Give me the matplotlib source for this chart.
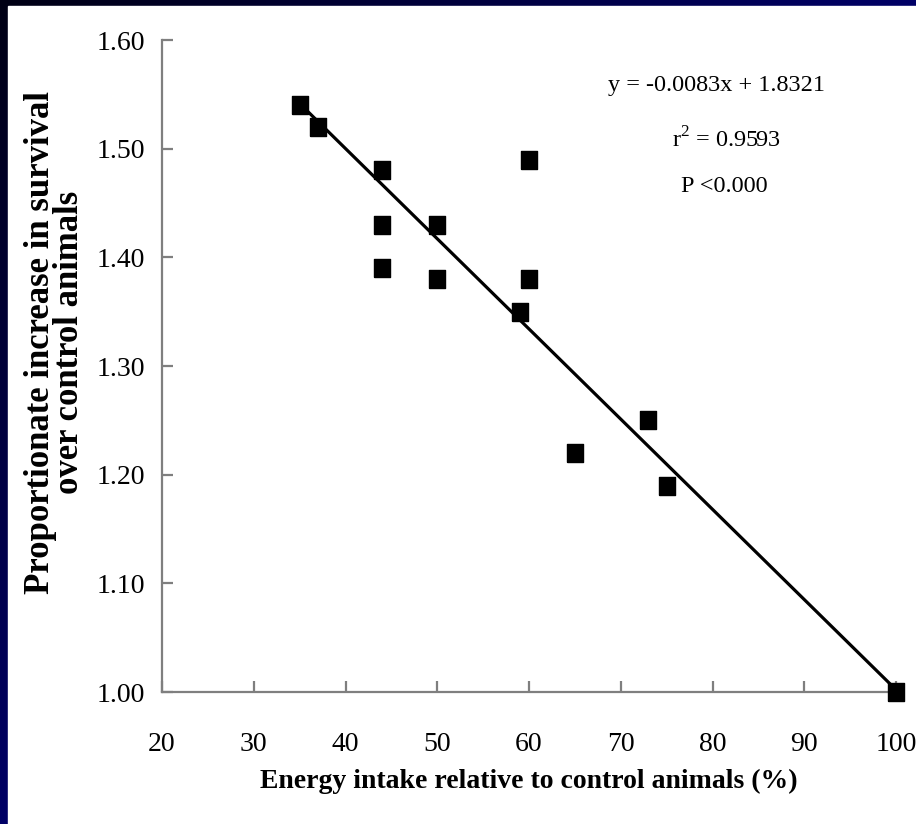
import numpy as np
import matplotlib
matplotlib.use('Agg')
import matplotlib.pyplot as plt

# data
energy = [35, 37, 44, 44, 44, 50, 50, 59, 60, 60, 65, 73, 75, 100]
survival = [1.54, 1.52, 1.48, 1.43, 1.39, 1.43, 1.38, 1.35, 1.49, 1.38, 1.22, 1.25, 1.19, 1.00]
slope = -0.0083
intercept = 1.8321
fit_text = ['y = -0.0083x + 1.8321', r'r$^2$ = 0.9593', 'P <0.000']
x_ticks = [20, 30, 40, 50, 60, 70, 80, 90, 100]
y_ticks = [1.00, 1.10, 1.20, 1.30, 1.40, 1.50, 1.60]

plt.rcParams['font.family'] = ['Liberation Serif', 'DejaVu Serif']
plt.rcParams['mathtext.fontset'] = 'custom'
plt.rcParams['mathtext.rm'] = 'Liberation Serif'

W, H = 916, 824
fig = plt.figure(figsize=(W / 100, H / 100), dpi=100)

# navy slide background with gradient
bg = fig.add_axes([0, 0, 1, 1], zorder=-2)
xx, yy = np.meshgrid(np.linspace(0, 1, 200), np.linspace(0, 1, 200))
t = np.clip(xx + yy, 0, 1)
dark = np.array([0.0, 0.0, 0.08])
navy = np.array([0.0, 0.0, 0.40])
img = dark[None, None, :] * (1 - t[..., None]) + navy[None, None, :] * t[..., None]
bg.imshow(img, extent=[0, 1, 1, 0], aspect='auto')
bg.add_patch(plt.Rectangle((8 / W, 6 / H), 1, 1, color='white'))
bg.set_xlim(0, 1)
bg.set_ylim(1, 0)
bg.axis('off')

ax = fig.add_axes([162 / W, (H - 692) / H, (896 - 162) / W, (692 - 40) / H])
ax.patch.set_alpha(0)

xs = np.array([min(energy), max(energy)])
ax.plot(xs, slope * xs + intercept, color='black', lw=2.3, zorder=2, clip_on=False)

sq = [(-0.42, -0.5), (0.42, -0.5), (0.42, 0.5), (-0.42, 0.5), (-0.42, -0.5)]
ax.plot(energy, survival, ls='none', marker=sq, ms=13, color='black', zorder=3, clip_on=False)

ax.set_xlim(20, 100)
ax.set_ylim(1.00, 1.60)
ax.set_xticks(x_ticks)
ax.set_yticks(y_ticks)
ax.set_yticklabels(['%.2f' % v for v in y_ticks])
for s in ['top', 'right']:
    ax.spines[s].set_visible(False)
for s in ['left', 'bottom']:
    ax.spines[s].set_color('#7f7f7f')
    ax.spines[s].set_linewidth(1.6)
ax.tick_params(direction='in', length=8, width=1.6, color='#7f7f7f', labelsize=20)
ax.tick_params(axis='x', pad=29)
ax.tick_params(axis='y', pad=12)

ax.set_xlabel('Energy intake relative to control animals (%)', fontsize=20,
              fontweight='bold', labelpad=8)
fig.text(55 / W, 1 - 342 / H, 'Proportionate increase in survival\nover control animals',
         rotation=90, ha='center', va='center', fontsize=25, fontweight='bold',
         linespacing=0.8, multialignment='center')

for txt, xp, yp in zip(fit_text, [716, 726, 724], [85, 140, 187]):
    fig.text(xp / W, 1 - yp / H, txt, ha='center', va='center', fontsize=17.5)

fig.savefig('out.png', dpi=100)
